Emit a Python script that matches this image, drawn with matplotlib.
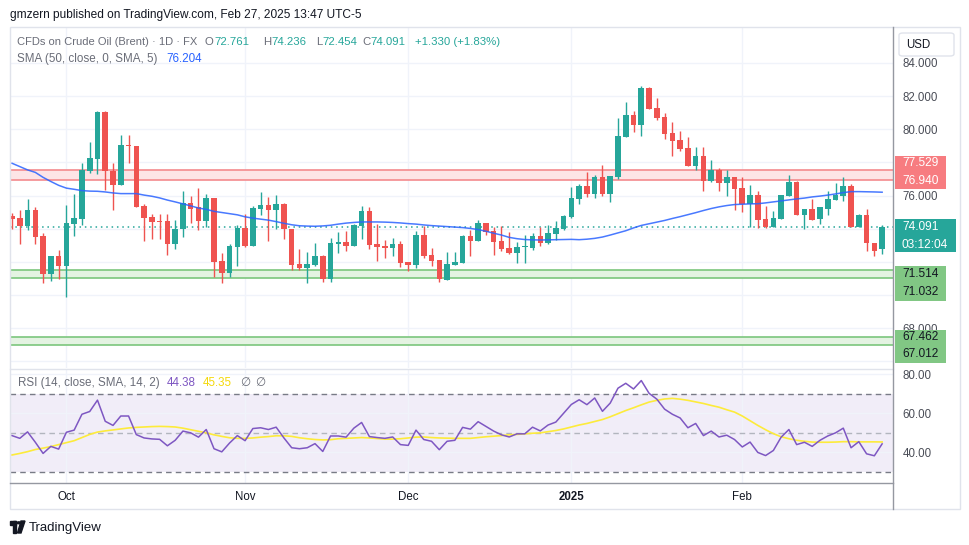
import numpy as np
import matplotlib
matplotlib.use("Agg")
import matplotlib.pyplot as plt
from matplotlib.patches import Rectangle, FancyBboxPatch, Polygon, Circle
from matplotlib.lines import Line2D
import matplotlib.transforms as mtransforms

plt.rcParams['font.family'] = ['Liberation Sans', 'DejaVu Sans']

# ---------------- data ----------------
opens = [74.77, 74.65, 74.19, 75.13, 73.57, 71.30, 72.36, 71.78, 74.31, 74.61,
         77.49, 78.21, 81.04, 77.49, 76.66, 79.05, 78.99, 75.38, 74.71, 74.47,
         74.47, 73.08, 73.97, 75.56, 75.30, 74.49, 75.86, 72.06, 71.35, 72.92,
         74.05, 72.96, 75.20, 75.44, 75.13, 75.50, 73.97, 71.88, 71.66, 71.82,
         72.36, 70.99, 73.10, 73.20, 72.96, 74.17, 75.07, 73.08, 72.96, 72.86,
         73.08, 72.00, 71.82, 73.63, 72.42, 72.12, 70.93, 71.82, 71.96, 73.57,
         73.28, 74.35, 73.87, 73.26, 72.84, 72.56, 72.88, 72.86, 73.57, 73.16,
         73.69, 73.99, 74.69, 75.82, 76.58, 76.12, 77.12, 76.12, 77.11, 79.56,
         80.86, 80.28, 82.49, 81.29, 80.74, 79.80, 79.36, 78.87, 77.79, 78.39,
         76.90, 77.57, 76.78, 77.13, 76.48, 75.48, 76.04, 74.59, 74.13, 74.61,
         75.98, 76.82, 74.85, 75.22, 74.57, 75.22, 75.74, 76.00, 76.58, 74.13,
         74.85, 73.14, 72.761]
highs = [74.93, 75.13, 75.82, 75.30, 73.73, 72.36, 72.72, 75.44, 76.08, 77.95,
         79.22, 81.10, 81.10, 77.97, 79.66, 79.66, 79.02, 75.50, 74.89, 74.89,
         74.89, 74.53, 76.28, 75.98, 76.46, 76.10, 75.86, 72.54, 73.08, 74.25,
         74.89, 75.38, 76.22, 75.94, 76.02, 75.56, 73.97, 72.78, 72.60, 73.12,
         72.40, 73.45, 73.81, 73.87, 74.29, 75.40, 75.29, 74.29, 73.32, 73.45,
         73.26, 72.00, 73.87, 74.17, 72.84, 72.12, 72.62, 72.60, 73.63, 73.93,
         74.53, 74.35, 74.09, 74.17, 73.81, 73.20, 73.63, 73.75, 74.11, 74.23,
         74.47, 74.83, 76.54, 76.72, 77.45, 77.25, 77.85, 77.19, 80.68, 81.65,
         81.10, 82.61, 82.55, 81.89, 80.98, 80.44, 79.90, 79.54, 78.93, 78.93,
         78.15, 77.67, 77.55, 77.13, 77.13, 76.64, 76.28, 75.36, 75.09, 76.04,
         77.25, 76.88, 75.22, 75.80, 75.30, 76.30, 76.76, 77.13, 76.68, 74.89,
         75.20, 73.14, 74.236]
lows = [73.97, 73.06, 73.91, 73.06, 70.71, 70.87, 70.99, 69.87, 73.58, 74.23,
        77.37, 77.31, 76.34, 75.13, 76.66, 77.97, 75.30, 73.29, 73.39, 73.39,
        72.44, 72.80, 73.52, 74.37, 73.95, 74.13, 71.11, 70.71, 71.11, 71.78,
        72.92, 72.96, 74.85, 73.29, 74.01, 73.41, 71.51, 71.52, 70.71, 71.76,
        70.81, 70.81, 72.56, 72.68, 72.96, 73.41, 72.80, 72.08, 72.26, 72.36,
        71.68, 71.47, 71.66, 72.26, 71.76, 70.81, 70.93, 71.82, 71.96, 72.36,
        73.28, 73.65, 72.44, 72.68, 72.50, 71.96, 71.96, 72.74, 72.96, 73.08,
        73.33, 73.93, 74.63, 75.52, 75.92, 75.88, 76.00, 75.64, 77.00, 79.56,
        79.86, 79.62, 81.23, 80.56, 79.42, 78.39, 78.69, 77.79, 77.55, 76.30,
        76.82, 76.30, 75.98, 75.16, 75.03, 74.13, 74.07, 74.07, 74.13, 74.61,
        75.98, 74.85, 74.01, 74.55, 74.29, 74.85, 75.74, 75.70, 74.13, 74.13,
        72.66, 72.38, 72.454]
closes = [74.61, 74.19, 75.13, 73.52, 71.30, 72.36, 71.78, 74.33, 74.65, 77.55,
          78.27, 81.04, 77.49, 76.66, 79.05, 79.01, 75.34, 74.67, 74.43, 74.43,
          73.08, 74.01, 75.53, 75.20, 74.49, 75.86, 72.00, 71.35, 72.96, 74.05,
          72.96, 75.26, 75.44, 75.13, 75.50, 73.97, 71.84, 71.66, 71.88, 72.36,
          70.99, 73.12, 73.20, 72.96, 74.25, 75.07, 73.02, 72.90, 72.84, 73.08,
          71.94, 71.82, 73.63, 72.36, 72.08, 70.97, 71.88, 72.00, 73.57, 73.26,
          74.35, 73.81, 73.22, 72.78, 72.56, 72.90, 72.90, 73.57, 73.16, 73.75,
          74.05, 74.77, 75.86, 76.60, 76.12, 77.12, 76.12, 77.19, 79.60, 80.86,
          80.28, 82.49, 81.23, 80.70, 79.74, 79.32, 78.81, 77.79, 78.39, 76.90,
          77.57, 76.78, 77.13, 76.42, 75.48, 76.04, 74.55, 74.13, 74.65, 76.04,
          76.82, 74.85, 75.22, 74.55, 75.30, 75.80, 76.06, 76.58, 74.13, 74.85,
          73.12, 72.66, 74.091]

sma50 = [77.95, 77.75, 77.55, 77.40, 77.10, 76.85, 76.62, 76.45, 76.38, 76.30,
         76.27, 76.26, 76.22, 76.16, 76.12, 76.12, 76.12, 76.03, 75.96, 75.86,
         75.73, 75.62, 75.50, 75.38, 75.25, 75.17, 75.05, 74.98, 74.91, 74.84,
         74.72, 74.64, 74.58, 74.52, 74.43, 74.33, 74.24, 74.18, 74.16, 74.15,
         74.17, 74.21, 74.28, 74.34, 74.38, 74.41, 74.41, 74.41, 74.40, 74.38,
         74.35, 74.31, 74.28, 74.23, 74.19, 74.16, 74.13, 74.10, 74.07, 74.02,
         73.95, 73.85, 73.73, 73.62, 73.48, 73.40, 73.35, 73.33, 73.32, 73.33,
         73.34, 73.35, 73.36, 73.34, 73.37, 73.42, 73.50, 73.62, 73.75, 73.88,
         74.05, 74.20, 74.30, 74.40, 74.50, 74.62, 74.73, 74.85, 74.97, 75.10,
         75.22, 75.32, 75.40, 75.46, 75.48, 75.50, 75.51, 75.56, 75.62, 75.68,
         75.74, 75.80, 75.85, 75.92, 75.97, 76.03, 76.10, 76.18, 76.24, 76.24,
         76.23, 76.22, 76.204]

rsi = [48.6, 47.2, 50.5, 45.2, 39.5, 43.1, 41.7, 50.3, 51.4, 59.5,
       60.9, 66.7, 55.9, 53.8, 58.6, 58.6, 49.1, 47.4, 46.9, 46.7,
       43.4, 46.2, 50.9, 50.0, 47.8, 51.7, 41.9, 40.3, 44.8, 48.6,
       46.0, 52.2, 52.6, 51.7, 52.9, 47.4, 42.4, 41.9, 42.4, 44.5,
       40.5, 48.4, 48.4, 47.8, 52.4, 55.3, 48.1, 47.6, 47.2, 47.9,
       44.0, 43.6, 51.4, 46.6, 45.7, 41.4, 45.7, 46.2, 52.8, 51.9,
       55.7, 53.3, 50.9, 49.0, 47.9, 49.5, 49.5, 52.9, 51.0, 54.0,
       55.5, 60.0, 64.5, 66.9, 64.4, 67.8, 61.0, 65.2, 72.8, 75.3,
       72.4, 76.7, 70.2, 67.2, 62.1, 59.5, 57.6, 52.6, 54.8, 48.6,
       50.9, 47.9, 48.8, 46.6, 42.8, 45.3, 40.0, 38.4, 41.0, 47.8,
       51.7, 44.0, 45.2, 43.1, 46.2, 48.4, 50.0, 52.4, 42.4, 45.5,
       39.3, 38.3, 44.38]
rsi_ma = [38.7, 39.5, 40.4, 41.5, 42.2, 43.0, 44.0, 45.0, 46.0, 47.6,
          49.2, 50.4, 51.0, 51.5, 52.0, 52.5, 52.8, 53.0, 53.2, 53.3,
          53.2, 53.0, 52.4, 51.6, 50.8, 50.0, 49.0, 48.2, 47.5, 47.2,
          47.2, 47.4, 47.8, 48.1, 48.5, 48.5, 48.2, 47.5, 47.0, 46.6,
          46.4, 46.5, 47.0, 47.2, 47.4, 47.6, 47.4, 47.1, 46.8, 46.8,
          47.0, 47.4, 47.8, 47.9, 47.6, 47.4, 47.3, 47.2, 47.2, 47.2,
          47.6, 48.0, 48.3, 48.6, 49.0, 49.2, 49.5, 49.8, 50.0, 50.6,
          51.2, 52.0, 53.0, 54.0, 54.8, 55.8, 56.8, 58.2, 59.8, 61.4,
          62.8, 64.3, 65.7, 66.6, 67.3, 67.6, 67.2, 66.6, 65.8, 65.0,
          64.0, 63.1, 61.8, 60.6, 58.6, 56.2, 53.8, 51.6, 49.6, 48.0,
          47.0, 46.2, 45.7, 45.3, 45.2, 45.2, 45.3, 45.5, 45.5, 45.4,
          45.4, 45.4, 45.35]

month_labels = ['Oct', 'Nov', 'Dec', '2025', 'Feb']
month_pos = [7, 30, 51, 72, 94]   # bar index of first session in month

resistance = (76.940, 77.529)
supports = [(71.032, 71.514), (67.012, 67.462)]
last_close = 74.091
price_ticks = [66, 68, 70, 72, 74, 76, 78, 80, 82, 84]
shown_ticks = [68, 76, 80, 82, 84]   # others sit under the label boxes
rsi_ticks = [40, 60, 80]

# ---------------- styling ----------------
UP = '#26a69a'
DN = '#ef5350'
GRID = '#f0f3fa'
FRAME = '#e0e3eb'
AXLINE = '#9598a1'
TXT = '#131722'
GRAY = '#6a6d78'
W, H = 970, 545

fig = plt.figure(figsize=(W / 100, H / 100), dpi=100)
fig.patch.set_facecolor('white')


def fx(x):
    return x / W


def fy(y):
    return 1 - y / H


def ftext(x, y, s, **kw):
    kw.setdefault('va', 'center')
    fig.text(fx(x), fy(y), s, **kw)


ax = fig.add_axes([fx(10), fy(368), fx(883), 341 / H])
ax2 = fig.add_axes([fx(10), fy(483), fx(883), 114 / H], sharex=ax)

n = len(closes)
x = np.arange(n)
o = np.array(opens)
c = np.array(closes)
hi = np.array(highs)
lo = np.array(lows)
up = c >= o
cols = np.where(up, UP, DN)

# bands
r_lo, r_hi = resistance
ax.axhspan(r_lo, r_hi, color='#fde4e6', zorder=0.6, lw=0)
for lvl in resistance:
    ax.axhline(lvl, color='#f48a8e', lw=1.2, zorder=0.7)
for s_lo, s_hi in supports:
    ax.axhspan(s_lo, s_hi, color='#e4f3e2', zorder=0.6, lw=0)
    for lvl in (s_lo, s_hi):
        ax.axhline(lvl, color='#7cc67d', lw=1.2, zorder=0.7)

# candles
ax.vlines(x, lo, hi, colors=cols, lw=1.0, zorder=2)
body = np.maximum(np.abs(c - o), 0.05)
ax.bar(x, body, bottom=np.minimum(o, c), width=0.72, color=cols, zorder=2.1, lw=0)

ax.plot(x, sma50, color='#2962ff', lw=1.1, alpha=0.85, zorder=3)
ax.axhline(last_close, color=UP, lw=1.1, ls=(0, (1, 2.5)), zorder=1.5)

ax.set_xlim(-0.26, 113.4)
ax.set_ylim(65.60, 86.17)
ax.set_yticks(price_ticks)
ax.set_yticklabels(['%.3f' % t if t in shown_ticks else '' for t in price_ticks])
ax.yaxis.tick_right()
ax.tick_params(axis='y', length=0, pad=7, labelsize=8.3, labelcolor='#4a4d57')
ax.tick_params(axis='x', length=0, labelbottom=False)
ax.set_xticks(month_pos)
ax.grid(True, color=GRID, lw=1)
ax.set_axisbelow(True)
for sp in ax.spines.values():
    sp.set_visible(False)

# RSI pane
ax2.axhspan(30, 70, color='#7e57c2', alpha=0.1, lw=0, zorder=0.5)
for lvl, col in ((70, '#787b86'), (30, '#787b86'), (50, '#b2b5be')):
    ax2.axhline(lvl, color=col, lw=1, ls=(0, (4, 3)), zorder=1)
ax2.plot(x, rsi_ma, color='#fdeb3b', lw=1.2, zorder=2)
ax2.plot(x, rsi, color='#7e57c2', lw=1.1, zorder=3)
ax2.set_ylim(24.4, 82.6)
ax2.set_yticks(rsi_ticks)
ax2.set_yticklabels(['%.2f' % t for t in rsi_ticks])
ax2.yaxis.tick_right()
ax2.tick_params(axis='y', length=0, pad=7, labelsize=8.3, labelcolor='#4a4d57')
ax2.set_xticks(month_pos)
ax2.set_xticklabels(month_labels)
ax2.tick_params(axis='x', length=0, pad=6, labelsize=8.3, labelcolor=TXT)
for lab in ax2.get_xticklabels():
    if lab.get_text() == '2025':
        lab.set_fontweight('bold')
ax2.grid(True, color=GRID, lw=1)
ax2.set_axisbelow(True)
for sp in ax2.spines.values():
    sp.set_visible(False)

# frame and separators
fig.add_artist(Rectangle((fx(10), fy(509)), fx(950), (509 - 27) / H, transform=fig.transFigure,
                         fill=False, edgecolor=FRAME, lw=1))
fig.add_artist(Line2D([fx(10), fx(893)], [fy(368.5), fy(368.5)], color=FRAME, lw=1))
fig.add_artist(Line2D([fx(10), fx(893)], [fy(483), fy(483)], color=AXLINE, lw=1))
fig.add_artist(Line2D([fx(893.5), fx(893.5)], [fy(27), fy(509)], color=AXLINE, lw=1))

# price-axis labels (boxes)
trans = mtransforms.blended_transform_factory(fig.transFigure, ax.transData)
PX = (86.17 - 65.60) / 341.0   # price per pixel


def price_box(top_px, bot_px, x1, color, lines, txtcol):
    lvl0 = lines[0][1]
    y0 = lvl0 - bot_px * PX
    y1 = lvl0 + top_px * PX
    ax.add_artist(Rectangle((fx(895), y0), fx(x1 - 895), y1 - y0, transform=trans,
                            facecolor=color, edgecolor='none', clip_on=False, zorder=5))
    for k, (s, _) in enumerate(lines):
        yy = lvl0 - (k * 17.5) * PX
        ax.text(fx(902), yy, s, transform=trans, color=txtcol, fontsize=8.6,
                va='center', ha='left', clip_on=False, zorder=6)


price_box(7.5, 25.5, 946, '#f77c80', [('%.3f' % resistance[1], resistance[1] + 7 * PX),
                                       ('%.3f' % resistance[0], 0)], 'white')
price_box(8, 24.5, 956, UP, [('%.3f' % last_close, last_close), ('03:12:04', 0)], 'white')
price_box(8, 27, 946, '#81c784', [('%.3f' % supports[0][1], supports[0][1] - 4.5 * PX),
                                   ('%.3f' % supports[0][0], 0)], TXT)
price_box(7, 26, 946, '#81c784', [('%.3f' % supports[1][1], supports[1][1] + 0.5 * PX),
                                   ('%.3f' % supports[1][0], 0)], TXT)

# USD box
fig.add_artist(FancyBboxPatch((fx(899), fy(56)), fx(55), 23 / H, transform=fig.transFigure,
                              boxstyle='round,pad=0,rounding_size=0.004', facecolor='white',
                              edgecolor=FRAME, lw=1))
ftext(906, 44.5, 'USD', fontsize=8.3, color=TXT)

# header / legends
ftext(10, 15, 'gmzern published on TradingView.com, Feb 27, 2025 13:47 UTC-5', fontsize=8.6, color=TXT)
ftext(17, 42, 'CFDs on Crude Oil (Brent) · 1D · FX', fontsize=8.0, color=GRAY)
ohlc_legend = [(205, 9.5, 'O', '72.761'), (263, 8.5, 'H', '74.236'),
               (316, 6.5, 'L', '72.454'), (362, 8.5, 'C', '74.091')]
for xx, dx, lab, val in ohlc_legend:
    ftext(xx, 42, lab, fontsize=8.2, color=GRAY)
    ftext(xx + dx, 42, val, fontsize=8.2, color=UP)
ftext(415, 42, '+1.330 (+1.83%)', fontsize=8.2, color=UP)
ftext(17, 59, 'SMA (50, close, 0, SMA, 5)', fontsize=8.4, color=GRAY)
ftext(166, 59, '%.3f' % sma50[-1], fontsize=8.4, color='#2962ff')

ftext(18, 383, 'RSI (14, close, SMA, 14, 2)', fontsize=8.4, color=GRAY)
ftext(167, 383, '%.2f' % rsi[-1], fontsize=8.4, color='#7e57c2')
ftext(203, 383, '%.2f' % rsi_ma[-1], fontsize=8.4, color='#f5d90a')
ftext(240, 383, '\u2205', fontsize=8.4, color=GRAY)
ftext(255, 383, '\u2205', fontsize=8.4, color=GRAY)

# TradingView logo
fig.add_artist(Rectangle((fx(10), fy(524.5)), fx(6.5), 3.5 / H, transform=fig.transFigure, color=TXT))
fig.add_artist(Rectangle((fx(13), fy(533)), fx(3.5), 12 / H, transform=fig.transFigure, color=TXT))
fig.add_artist(Circle((fx(18.8), fy(522.8)), fx(1.7), transform=fig.transFigure, color=TXT))
fig.add_artist(Polygon([(fx(21), fy(521)), (fx(25), fy(521)), (fx(21), fy(533)), (fx(17.5), fy(533))],
                       transform=fig.transFigure, color=TXT))
ftext(29, 527.5, 'TradingView', fontsize=9.5, color=TXT)

fig.savefig('out.png', dpi=100)
